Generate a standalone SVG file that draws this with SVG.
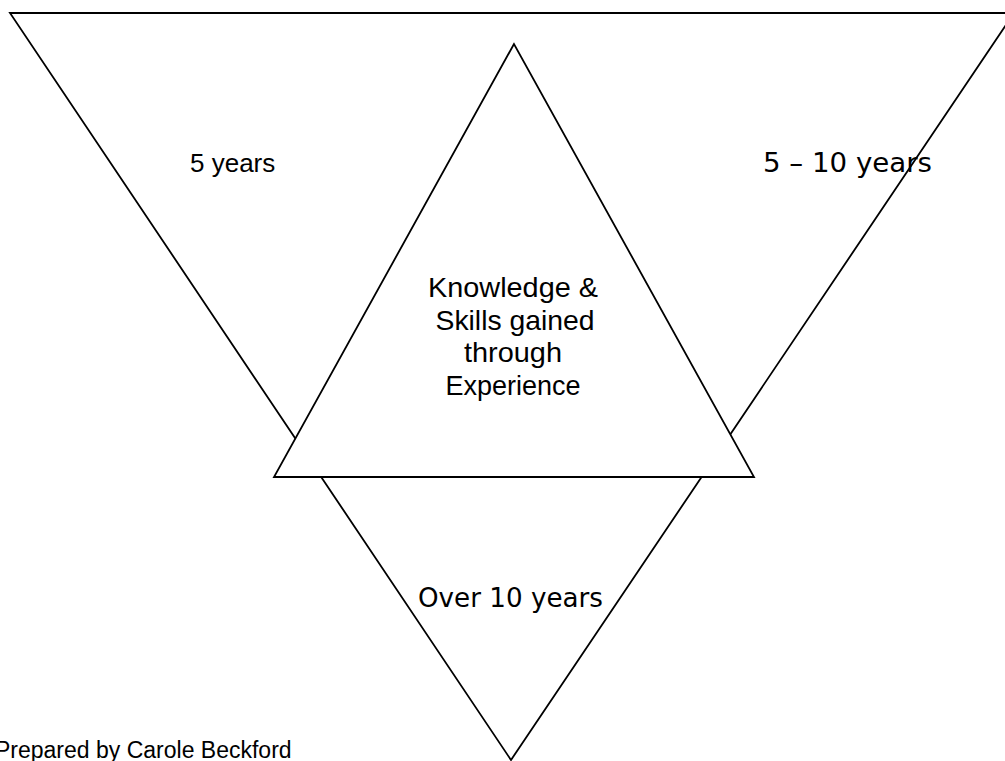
<svg xmlns="http://www.w3.org/2000/svg" width="1005" height="761" viewBox="0 0 1005 761">
<style>
.tri{fill:#fff;stroke:#000;stroke-width:1.8;stroke-linejoin:miter}
.t{font-family:"Liberation Sans",Arial,sans-serif;fill:#000}
.fr{font-family:"DejaVu Sans","Liberation Sans",sans-serif;font-size:26px;fill:#000}
.mid{font-size:28px;text-anchor:middle}
</style>
<rect width="1005" height="761" fill="#fff"/>
<g id="outer-triangle">
<polygon class="tri" points="10,13 1014,13 511,760"/>
<text class="t" x="190" y="172" font-size="26">5 years</text>
<text class="fr" x="763" y="172" textLength="169" lengthAdjust="spacingAndGlyphs">5 – 10 years</text>
<text class="fr" x="418" y="607" textLength="185" lengthAdjust="spacingAndGlyphs">Over 10 years</text>
</g>
<g id="inner-triangle">
<polygon class="tri" points="514,44 274,477 754,477"/>
<text class="t mid" x="513" y="297" textLength="170" lengthAdjust="spacingAndGlyphs">Knowledge &amp;</text>
<text class="t mid" x="515" y="330" textLength="159" lengthAdjust="spacingAndGlyphs">Skills gained</text>
<text class="t mid" x="513" y="362" textLength="98" lengthAdjust="spacingAndGlyphs">through</text>
<text class="t mid" x="513" y="395" textLength="135" lengthAdjust="spacingAndGlyphs">Experience</text>
</g>
<g id="connectors"/>
<text class="t" x="-5" y="758" font-size="23">Prepared by Carole Beckford</text>
</svg>
